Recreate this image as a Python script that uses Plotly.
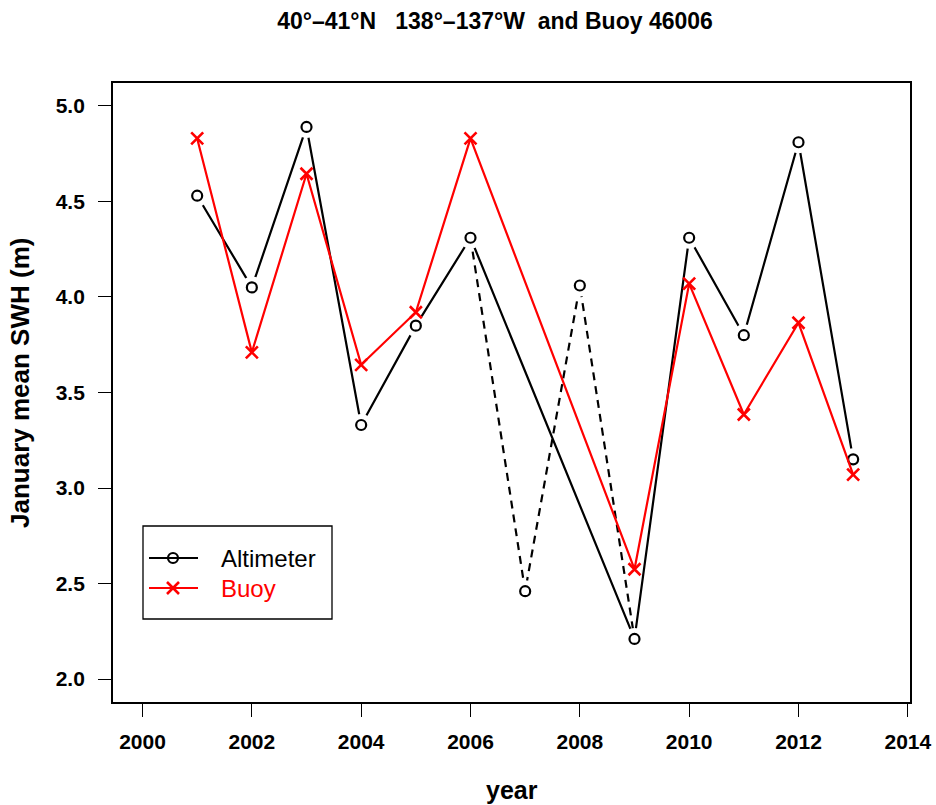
import plotly.graph_objects as go

# January mean significant wave height (m)
years = [2001, 2002, 2003, 2004, 2005, 2006, 2007, 2008, 2009, 2010, 2011, 2012, 2013]
altimeter = [4.53, 4.05, 4.89, 3.33, 3.85, 4.31, 2.46, 4.06, 2.21, 4.31, 3.80, 4.81, 3.15]

buoy_years = [2001, 2002, 2003, 2004, 2005, 2006, 2009, 2010, 2011, 2012, 2013]
buoy = [4.83, 3.71, 4.645, 3.645, 3.92, 4.83, 2.575, 4.07, 3.385, 3.865, 3.07]

# years without buoy data: the altimeter series is bridged over them with a solid line
gap_years = [2007, 2008]

x_ticks = [2000, 2002, 2004, 2006, 2008, 2010, 2012, 2014]
y_ticks = [2.0, 2.5, 3.0, 3.5, 4.0, 4.5, 5.0]

legend_names = ["Altimeter", "Buoy"]
legend_colors = ["black", "#ff0000"]

FONT = "Liberation Sans, Arial, Helvetica, sans-serif"
W, H = 936, 805
L, R, T, B = 113, 910, 83, 702  # plot box in pixels


def px_x(p):
    return (p - L) / (R - L)


def px_y(p):
    return (B - p) / (B - T)


solid_x = [y for y in years if y not in gap_years]
solid_y = [v for y, v in zip(years, altimeter) if y not in gap_years]
i0 = years.index(gap_years[0]) - 1
i1 = years.index(gap_years[-1]) + 2
dash_x = years[i0:i1]
dash_y = altimeter[i0:i1]

circle_marker = dict(symbol="circle-open", size=10, color="black", line=dict(width=2.2))
cross_marker = dict(symbol="x-thin", size=12, color="#ff0000",
                    line=dict(width=2.6, color="#ff0000"))

fig = go.Figure()

# altimeter lines
fig.add_trace(go.Scatter(x=solid_x, y=solid_y, mode="lines",
                         line=dict(color="black", width=2.2), hoverinfo="skip"))
fig.add_trace(go.Scatter(x=dash_x, y=dash_y, mode="lines",
                         line=dict(color="black", width=2.2, dash="8px,6px"),
                         hoverinfo="skip"))
# white halo leaves a small gap between the line and each point
fig.add_trace(go.Scatter(x=years, y=altimeter, mode="markers",
                         marker=dict(symbol="circle", size=22, color="white",
                                     line=dict(width=0)),
                         hoverinfo="skip"))
# altimeter points
fig.add_trace(go.Scatter(x=years, y=altimeter, mode="markers", name="Altimeter",
                         marker=circle_marker))
# buoy series
fig.add_trace(go.Scatter(x=buoy_years, y=buoy, mode="lines+markers", name="Buoy",
                         line=dict(color="#ff0000", width=2.2), marker=cross_marker))

# legend box drawn on an overlay axis pair spanning the plot area (0..1)
leg_rows = [558, 588]
seg_x0, seg_x1, sym_x = px_x(149), px_x(198), px_x(173)
for row, color, marker in zip(leg_rows, legend_colors, [circle_marker, cross_marker]):
    fig.add_trace(go.Scatter(x=[seg_x0, seg_x1], y=[px_y(row)] * 2, mode="lines",
                             line=dict(color=color, width=2.2),
                             xaxis="x2", yaxis="y2", hoverinfo="skip"))
    fig.add_trace(go.Scatter(x=[sym_x], y=[px_y(row)], mode="markers", marker=marker,
                             xaxis="x2", yaxis="y2", hoverinfo="skip"))

annotations = []
for row, color, name in zip(leg_rows, legend_colors, legend_names):
    annotations.append(dict(text=name, xref="paper", yref="paper",
                            x=px_x(219), y=px_y(row), xanchor="left", yanchor="middle",
                            showarrow=False,
                            font=dict(family=FONT, size=24, color=color)))

# axis titles
annotations.append(dict(text="year", xref="paper", yref="paper",
                        x=px_x(512), y=px_y(790), xanchor="center", yanchor="middle",
                        showarrow=False,
                        font=dict(family=FONT, size=25, color="black", weight="bold")))
annotations.append(dict(text="January mean SWH (m)", xref="paper", yref="paper",
                        x=px_x(20), y=px_y(383), xanchor="center", yanchor="middle",
                        textangle=-90, showarrow=False,
                        font=dict(family=FONT, size=26, color="black", weight="bold")))

axis_common = dict(showline=True, linecolor="black", linewidth=1.8, mirror=True,
                   ticks="outside", ticklen=13, tickwidth=1.3, tickcolor="black",
                   showgrid=False, zeroline=False, automargin=False,
                   ticklabeloverflow="allow",
                   tickfont=dict(family=FONT, size=21, color="black", weight="bold"))

fig.update_layout(
    width=W, height=H,
    margin=dict(l=L, r=W - R, t=T, b=H - B, autoexpand=False),
    paper_bgcolor="white", plot_bgcolor="white",
    showlegend=False,
    title=dict(text="40°\u201341°N   138°\u2013137°W  and Buoy 46006",
               x=495 / W, xanchor="center", xref="container",
               y=1 - 21 / H, yanchor="middle", yref="container",
               font=dict(family=FONT, size=23, color="black", weight="bold")),
    xaxis=dict(range=[1999.46, 2014.04], tickvals=x_ticks,
               ticktext=[str(v) for v in x_ticks], ticklabelstandoff=7,
               **axis_common),
    yaxis=dict(range=[1.88, 5.12], tickvals=y_ticks,
               ticktext=[f"{v:.1f}" for v in y_ticks], ticklabelstandoff=9,
               **axis_common),
    xaxis2=dict(overlaying="x", range=[0, 1], visible=False, fixedrange=True),
    yaxis2=dict(overlaying="y", range=[0, 1], visible=False, fixedrange=True),
    annotations=annotations,
    shapes=[dict(type="rect", xref="paper", yref="paper",
                 x0=px_x(143), x1=px_x(332), y0=px_y(619), y1=px_y(526),
                 line=dict(color="black", width=1.3), fillcolor="rgba(0,0,0,0)")],
)

fig.write_html("out.html")
